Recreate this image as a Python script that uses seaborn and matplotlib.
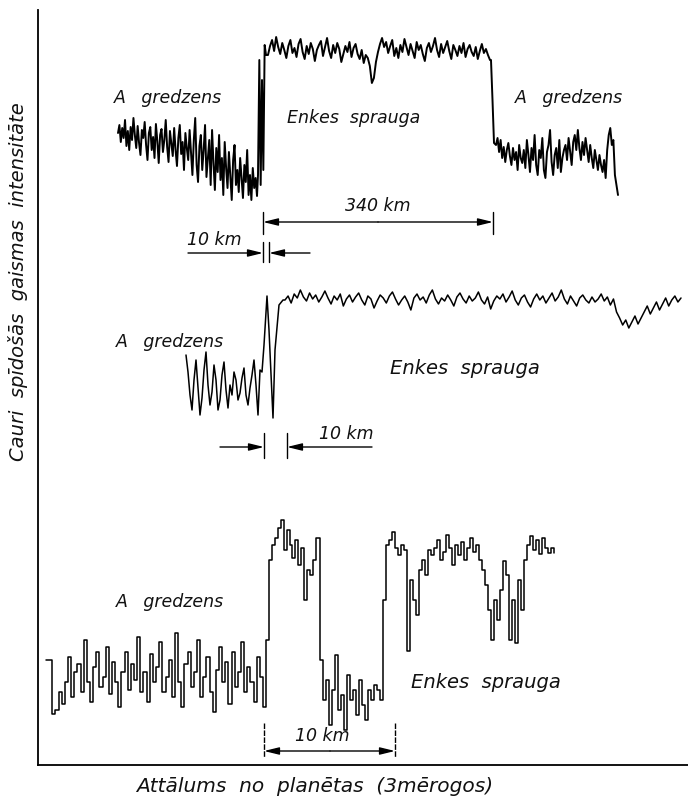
import numpy as np
import matplotlib
matplotlib.use("Agg")
import matplotlib.pyplot as plt
import seaborn as sns

sns.set_style("white")
plt.rcParams['font.family'] = ['DejaVu Sans']

# ---------------- data (screen units: larger = lower intensity) ----
# Trace 1 (top): A ring -> Encke gap -> A ring
t1_left = [133,125,142,128,138,120,146,131,150,127,140,118,135,148,126,143,155,130,138,122,
           145,160,133,127,150,137,158,124,141,163,135,129,152,140,120,147,162,131,144,156,
           128,150,166,138,125,154,142,170,133,148,
           160,130,152,175,140,118,165,182,146,135,170,150,125,177,158,140,185,130,163,190,
           148,172,135,180,158,195,142,168,188,152,176,200,160,145,185,170,192,158,178,198,
           165,182,150,195,175,200,168,188,178,196]
t1_edge = [175,60,185,80,170,45,55]
t1_gap = [55,46,40,51,37,47,54,43,50,58,46,40,53,48,57,44,39,52,59,46,54,43,49,61,50,45,41,56,
          47,38,51,58,45,53,43,49,62,54,46,52,42,57,48,44,54,59,50,63,55,58,
          66,83,78,62,52,
          44,38,47,42,53,46,40,56,48,58,45,52,39,47,55,44,51,58,42,50,45,54,61,48,43,52,46,38,
          50,57,44,53,47,41,51,59,45,50,56,46,53,43,57,49,45,52,56,47,59,51,44,53,49,55,60]
t1_drop = [60,100,143]
t1_right = [145,138,152,140,158,147,162,150,143,156,165,148,160,152,170,145,158,163,150,168,
            140,155,172,148,160,135,165,175,150,158,138,170,178,152,145,130,162,175,155,148,
            168,140,172,158,150,145,160,138,152,165,142,135,150,130,148,160,142,155,138,150,
            162,145,158,168,150,160,170,155,165,172,160,178,150,135,128,145,140,175,185,195]

# Trace 2 (middle)
t2_left = [355,372,395,410,380,360,388,415,398,370,352,385,405,392,365,380,410,400,375,362,
           390,408,385,395,372,380,400,393,378,368,395,405,388,375,360,385,415,370]
t2_edge_x = [262,264,267,269,273,275,279,283]
t2_edge_y = [372,345,296,330,418,350,305,300]
t2_gap = [300,296,303,294,298,290,297,301,293,299,295,302,297,291,298,304,296,300,294,306,
          299,295,302,297,293,300,305,296,299,308,301,295,298,303,296,292,299,305,300,296,
          302,310,298,294,300,297,303,295,290,299,304,298,301,295,300,306,297,293,299,303,
          296,301,298,292,300,304,297,309,301,296,299,294,302,297,291,300,305,298,295,302,
          307,299,294,300,296,303,298,293,301,297,290,299,304,296,301,306,298,295,300,303,
          297,302,299,294,301,297,305,299,312,318,325,320,328,322,316,324,318,312,306,314,
          308,302,310,304,298,306,300,296,302,298]

# Trace 3 (bottom, stepped)
t3_left = [660,660,714,710,692,704,682,657,697,672,664,692,640,682,702,667,652,687,677,647,
           694,662,682,707,672,652,690,664,680,637,692,672,702,654,682,667,642,692,677,660,
           697,633,682,707,664,652,687,672,640,697,677,657,692,712,670,647,682,662,704,652,
           687,672,642,692,667,682,702,657,677,707]
t3_high1 = [640,560,545,538,528,520,550,530,545,558,540,565,548,600,570,575,560,538]
t3_low = [660,700,680,725,690,655,710,695,730,675,700,690,715,680,705,720,690,700,685,690]
t3_high2 = [700,600,545,540,532,548,555,545,550,651,580,600,615,570,560,575,550,555,548,
            540,560,552,535,548,565,545,555,542,560,548,538,552,545,560,570,585,610,640,600,
            620,590,561,575,640,600,643,580,610,560,545,536,550,540,554,538,548,553,548,553]

labels_ring = "A   gredzens"
labels_gap = "Enkes  sprauga"
xlabel = "Attālums  no  planētas  (3mērogos)"
ylabel = "Cauri  spīdošās  gaismas  intensitāte"

# ---------------- figure ----------------
W, H = 688, 801
fig = plt.figure(figsize=(W/100, H/100), dpi=100)
ax = fig.add_axes([38/W, 36/H, (W-38)/W, (765-10)/H])
ax.set_xlim(38, W)
ax.set_ylim(765, 10)
ax.set_xticks([]); ax.set_yticks([])
for s in ['top', 'right']:
    ax.spines[s].set_visible(False)
for s in ['left', 'bottom']:
    ax.spines[s].set_color('black')
    ax.spines[s].set_linewidth(1.3)

def seg(x0, x1, vals):
    return np.linspace(x0, x1, len(vals)), np.array(vals, float)

def draw(xs, ys, lw=1.0, **kw):
    sns.lineplot(x=xs, y=ys, ax=ax, color='black', lw=lw, estimator=None,
                 sort=False, legend=False, **kw)

# trace 1
xs, ys = [], []
for (a, b, v) in [(118, 257, t1_left), (258, 266, t1_edge), (268, 490, t1_gap),
                  (491, 494, t1_drop), (496, 618, t1_right)]:
    x, y = seg(a, b, v); xs.append(x); ys.append(y)
draw(np.concatenate(xs), np.concatenate(ys), lw=1.4)

# trace 2
x1, y1 = seg(186, 260, t2_left)
x3, y3 = seg(285, 681, t2_gap)
draw(np.concatenate([x1, t2_edge_x, x3]), np.concatenate([y1, t2_edge_y, y3]), lw=1.1)

# trace 3 (stepped)
xs, ys = [], []
for (a, b, v) in [(46, 263, t3_left), (266, 316, t3_high1), (320, 377, t3_low),
                  (380, 554, t3_high2)]:
    x, y = seg(a, b, v); xs.append(x); ys.append(y)
draw(np.concatenate(xs), np.concatenate(ys), lw=1.1, drawstyle='steps-post')

# ---------------- texts ----------------
tk = dict(fontsize=12.5, style='italic', color='#111111', ha='center', va='center')
tk2 = dict(tk, fontsize=14)
ax.text(168, 98, labels_ring, **tk)
ax.text(354, 118, labels_gap, **tk)
ax.text(569, 98, labels_ring, **tk)
ax.text(170, 342, labels_ring, **tk)
ax.text(465, 368, labels_gap, **tk2)
ax.text(170, 602, labels_ring, **tk)
ax.text(486, 682, labels_gap, **tk2)

ax.text(378, 206, "340 km", **tk)
ax.text(214, 240, "10 km", **tk)
ax.text(346, 434, "10 km", **tk)
ax.text(322, 736, "10 km", **tk)

ax.text(18, 282, ylabel, fontsize=14, style='italic', rotation=90,
        ha='center', va='center', clip_on=False, color='#111111')
ax.text(315, 786, xlabel, fontsize=14.5, style='italic',
        ha='center', va='center', clip_on=False, color='#111111')

# ---------------- annotation arrows ----------------
ap = dict(arrowstyle='-|>,head_length=0.9,head_width=0.22', color='black', lw=1.0,
          shrinkA=0, shrinkB=0)
def arr(x0, x1, y):
    ax.annotate('', xy=(x1, y), xytext=(x0, y), arrowprops=ap, annotation_clip=False)

def vline(x, y0, y1, ls='-'):
    ax.plot([x, x], [y0, y1], color='black', lw=1.0, ls=ls)

# 340 km
vline(263, 212, 234); vline(493, 212, 234)
arr(378, 263, 222); arr(378, 493, 222)
# top 10 km
vline(263, 242, 262); vline(269, 242, 262)
arr(188, 263, 253); arr(310, 269, 253)
# middle 10 km
vline(264, 433, 458); vline(287, 433, 458)
arr(220, 264, 447); arr(372, 287, 447)
# bottom 10 km
vline(264, 723, 757, ls=(0, (4, 1))); vline(395, 723, 757, ls=(0, (4, 1)))
arr(330, 264, 751); arr(330, 395, 751)

fig.savefig("out.png", dpi=100)
